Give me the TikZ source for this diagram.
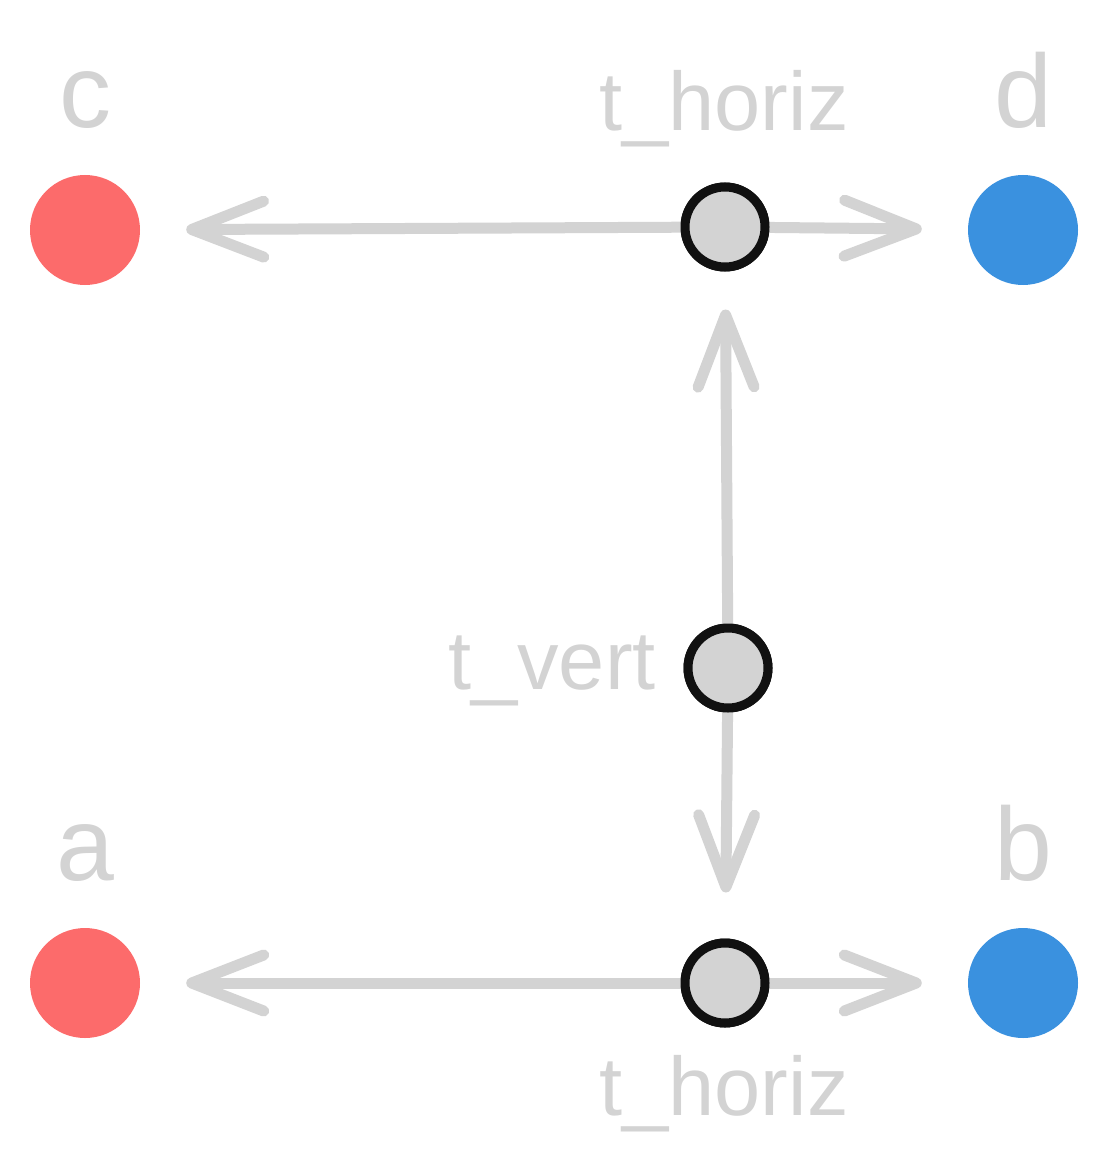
\documentclass[tikz,border=0pt]{standalone}
\usepackage{fontspec}
\setmainfont{Liberation Sans}
\usetikzlibrary{arrows.meta}
\definecolor{lg}{HTML}{D3D3D3}
\definecolor{redn}{HTML}{FC6B6B}
\definecolor{bluen}{HTML}{3A91DF}
\definecolor{blk}{HTML}{111111}
\tikzset{
  bignode/.style={circle, minimum size=110pt, inner sep=0pt, draw=none},
  redn/.style={bignode, fill=redn},
  bluen/.style={bignode, fill=bluen},
  tnode/.style={circle, minimum size=80pt, inner sep=0pt, fill=lg, draw=blk, line width=9pt},
  biglabel/.style={text=lg, anchor=base, font=\fontsize{104}{110}\selectfont, inner sep=0pt},
  tlabel/.style={text=lg, anchor=base, font=\fontsize{83}{90}\selectfont, inner sep=0pt},
  conn/.style={draw=lg, line width=11pt, line cap=round,
    -{Straight Barb[length=72pt,width=56pt,round]}, shorten >=46pt},
}
\begin{document}
\begin{tikzpicture}[x=1pt,y=-1pt]
\useasboundingbox (0,0) rectangle (1108,1166);
\node[redn] (c) at (85,230) {};
\node[bluen] (d) at (1023,230) {};
\node[redn] (a) at (85,983) {};
\node[bluen] (b) at (1023,983) {};
\node[tnode] (th1) at (725,227) {};
\node[tnode] (tv) at (728,668) {};
\node[tnode] (th2) at (725,983) {};
\node[biglabel] (lc) at (85,128) {c};
\node[biglabel] (ld) at (1023,128) {d};
\node[biglabel] (la) at (85,880) {a};
\node[biglabel] (lb) at (1023,880) {b};
\node[tlabel] (lth1) at (724,131) {t\_horiz};
\node[tlabel] (lth2) at (724,1115) {t\_horiz};
\node[tlabel, anchor=base east] (ltv) at (656,689) {t\_vert};
\draw[conn] (th1) -- (c);
\draw[conn] (th1) -- (d);
\draw[conn, shorten >=38pt] (tv) -- (th1);
\draw[conn] (tv) -- (th2);
\draw[conn] (th2) -- (a);
\draw[conn] (th2) -- (b);
\node[tnode] at (th1) {};
\node[tnode] at (tv) {};
\node[tnode] at (th2) {};
\end{tikzpicture}
\end{document}
